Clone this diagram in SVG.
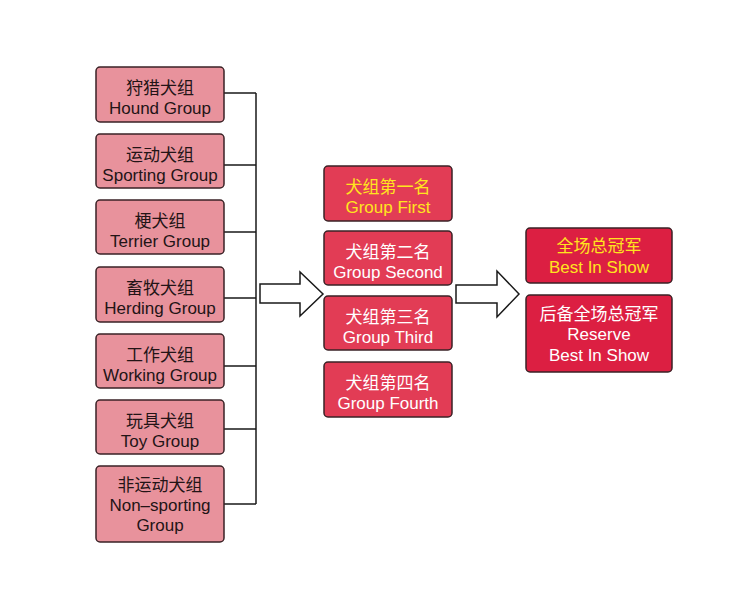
<svg xmlns="http://www.w3.org/2000/svg" width="750" height="611" viewBox="0 0 750 611">
<style>
text{font-family:"Liberation Sans","Noto Sans CJK SC",Arial,sans-serif;font-size:17px;text-anchor:middle}
.g rect{fill:#E8929C;stroke:#3a2226;stroke-width:1.5}
.g text{fill:#231416}
.m rect{fill:#E23C55;stroke:#3a2226;stroke-width:1.5}
.m text{fill:#FFFFFF}
.r rect{fill:#DC1F42;stroke:#3a2226;stroke-width:1.5}
.r text{fill:#FFFFFF}
text.y{fill:#FFE51E}
.c{fill:none;stroke:#1a1a1a;stroke-width:1.5}
.a{fill:#FFFFFF;stroke:#1a1a1a;stroke-width:1.5;stroke-linejoin:miter}
</style>
<rect width="750" height="611" fill="#FFFFFF"/>
<g id="connectors">
<path class="c" d="M224 93H256M224 165H256M224 232H256M224 298H256M224 366H256M224 429H256M224 504H256M256 93V504"/>
<polygon class="a" points="260,284 300,284 300,272 323,294 300,316 300,303 260,303"/>
<polygon class="a" points="456,285 497,285 497,271 519,294 497,317 497,303 456,303"/>
</g>
<g id="hound" class="g"><rect x="96" y="67" width="128" height="55" rx="4"/><text x="160" y="94">狩猎犬组</text><text x="160" y="114">Hound Group</text></g>
<g id="sporting" class="g"><rect x="96" y="134" width="128" height="54" rx="4"/><text x="160" y="161">运动犬组</text><text x="160" y="181">Sporting Group</text></g>
<g id="terrier" class="g"><rect x="96" y="200" width="128" height="54" rx="4"/><text x="160" y="227">梗犬组</text><text x="160" y="247">Terrier Group</text></g>
<g id="herding" class="g"><rect x="96" y="267" width="128" height="55" rx="4"/><text x="160" y="294">畜牧犬组</text><text x="160" y="314">Herding Group</text></g>
<g id="working" class="g"><rect x="96" y="334" width="128" height="54" rx="4"/><text x="160" y="361">工作犬组</text><text x="160" y="381">Working Group</text></g>
<g id="toy" class="g"><rect x="96" y="400" width="128" height="54" rx="4"/><text x="160" y="427">玩具犬组</text><text x="160" y="447">Toy Group</text></g>
<g id="nonsporting" class="g"><rect x="96" y="466" width="128" height="76" rx="4"/><text x="160" y="491">非运动犬组</text><text x="160" y="511">Non–sporting</text><text x="160" y="531">Group</text></g>
<g id="first" class="m"><rect x="324" y="166" width="128" height="55" rx="4"/><text class="y" x="388" y="193">犬组第一名</text><text class="y" x="388" y="213">Group First</text></g>
<g id="second" class="m"><rect x="324" y="231" width="128" height="54" rx="4"/><text x="388" y="258">犬组第二名</text><text x="388" y="278">Group Second</text></g>
<g id="third" class="m"><rect x="324" y="296" width="128" height="54" rx="4"/><text x="388" y="323">犬组第三名</text><text x="388" y="343">Group Third</text></g>
<g id="fourth" class="m"><rect x="324" y="362" width="128" height="55" rx="4"/><text x="388" y="389">犬组第四名</text><text x="388" y="409">Group Fourth</text></g>
<g id="best" class="r"><rect x="526" y="228" width="146" height="55" rx="4"/><text class="y" x="599" y="252">全场总冠军</text><text class="y" x="599" y="273">Best In Show</text></g>
<g id="reserve" class="r"><rect x="526" y="295" width="146" height="77" rx="4"/><text x="599" y="320">后备全场总冠军</text><text x="599" y="340">Reserve</text><text x="599" y="361">Best In Show</text></g>
</svg>
